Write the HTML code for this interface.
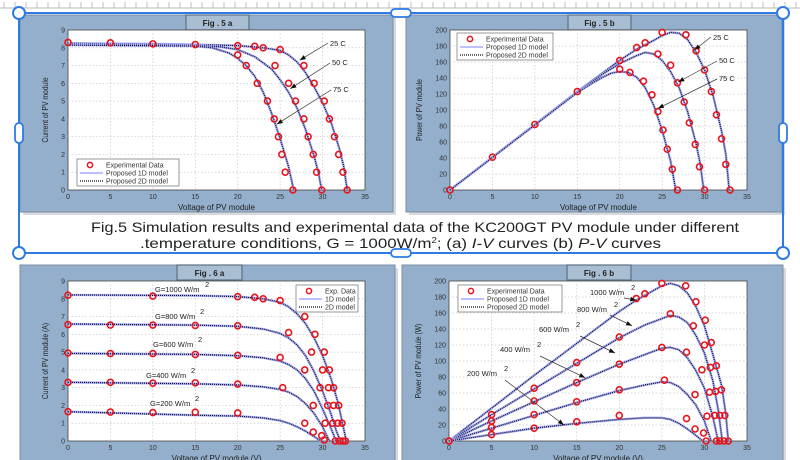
<!DOCTYPE html>
<html><head><meta charset="utf-8"><style>
html,body{margin:0;padding:0;background:#fff;}
svg{display:block;font-family:"Liberation Sans",sans-serif;}
</style></head><body>
<svg id="root" width="800" height="460" viewBox="0 0 800 460"></svg>
<script>
// ---------- DATA (Fig 5a: I-V vs temperature) ----------
const f5aExp25V=[0,5,10,15,20,22,23,25,27.8,29,30.2,30.8,31.4,31.9,32.4,32.9];
const f5aExp25I=[8.3,8.28,8.22,8.18,8.12,8.08,8.0,7.9,7.0,6.0,5.0,4.0,3.0,2.0,1.0,0];
const f5aExp50V=[24.4,26,26.8,27.8,28.3,28.9,29.3,29.9];
const f5aExp50I=[7.0,6.0,5.0,4.0,3.0,2.0,1.0,0];
const f5aExp75V=[20,21,22.3,23.5,24.3,24.8,25.2,25.6,26.5];
const f5aExp75I=[7.6,7.0,6.0,5.0,4.0,3.0,2.0,1.0,0];
const f5aM25V=[0,10,15,20,23,25,26,27,28,29,30,31,32,32.5,32.9];
const f5aM25I=[8.25,8.22,8.18,8.12,8.0,7.85,7.6,7.2,6.6,5.8,4.9,3.8,2.3,1.3,0];
const f5aM50V=[0,15,18,20,22,24,25,26,27,28,29,29.5,29.9];
const f5aM50I=[8.2,8.15,8.05,7.9,7.5,6.8,6.2,5.5,4.6,3.4,1.9,1.0,0];
const f5aM75V=[0,15,17,19,20,21,22,23,24,25,26,26.6];
const f5aM75I=[8.15,8.1,8.0,7.7,7.4,7.0,6.4,5.5,4.3,2.9,1.3,0];
// ---------- Fig 5b: P-V vs temperature ----------
const f5bExp25V=[25,27.8,29,30,30.8,31.4,32,32.5,33];
const f5bExp25P=[197,194,174,150,123,94,64,32,0];
const f5bExp50V=[20,22,23,24.5,26,26.8,27.6,28.2,28.9,29.4,30];
const f5bExp50P=[162,178,184,170,156,134,110,84,57,29,0];
const f5bExp75V=[0,5,10,15,20,21.2,22.8,23.8,24.5,25.1,25.6,26.2,26.8];
const f5bExp75P=[0,41,82,123,151,147,136,119,98,75,51,26,0];
const f5bM25V=[0,5,10,15,20,22,24,25,26,27,28,29,30,31,32,32.5,32.9];
const f5bM25P=[0,41,82,123,162,176,187,193,197,196,188,172,150,118,74,45,0];
const f5bM50V=[0,15,18,20,22,23,24,25,26,27,28,29,29.5,29.9];
const f5bM50P=[0,122,145,158,168,172,170,162,148,128,98,58,32,0];
const f5bM75V=[0,15,17,18,19,20,21,22,23,24,25,26,26.6];
const f5bM75P=[0,122,135,141,146,148,147,141,128,106,75,36,0];
// ---------- Fig 6a: I-V vs irradiance ----------
const f6aExp1000V=[0,10,20,22,23,25,27.9,29.1,30.2,30.8,31.3,31.9,32.3,32.7];
const f6aExp1000I=[8.2,8.15,8.12,8.08,8.0,7.9,7.0,6.0,5.0,4.0,3.0,2.0,1.0,0];
const f6aExp800V=[0,5,10,15,20,26,28.7,30,30.7,31.3,31.8,32.4];
const f6aExp800I=[6.55,6.52,6.52,6.5,6.48,6.1,5.0,4.0,3.0,2.0,1.0,0];
const f6aExp600V=[0,5,10,15,20,25,27.9,29.7,30.6,31.2,32];
const f6aExp600I=[4.95,4.92,4.92,4.87,4.82,4.7,4.0,3.0,2.0,1.0,0];
const f6aExp400V=[0,5,10,15,20,25.3,28.9,30.3,31.5];
const f6aExp400I=[3.3,3.3,3.25,3.27,3.2,3.0,2.0,1.0,0];
const f6aExp200V=[0,5,10,15,20,27.9,28.9,29.9,30.2];
const f6aExp200I=[1.65,1.63,1.6,1.62,1.58,1.0,0.5,0.3,0.05];
const f6aM1000V=[0,15,20,23,25,26,27,28,29,30,31,31.8,32.3,32.8];
const f6aM1000I=[8.22,8.18,8.12,8.0,7.8,7.55,7.15,6.6,5.8,4.8,3.5,2.2,1.1,0];
const f6aM800V=[0,15,20,23,25,26,27,28,29,30,31,31.6,32.1];
const f6aM800I=[6.58,6.52,6.45,6.3,6.05,5.8,5.4,4.8,3.9,2.8,1.5,0.6,0];
const f6aM600V=[0,15,20,23,25,26,27,28,29,30,31,31.6];
const f6aM600I=[4.93,4.87,4.8,4.68,4.5,4.3,4.0,3.5,2.8,1.8,0.7,0];
const f6aM400V=[0,15,20,23,25,26,27,28,29,30,30.8];
const f6aM400I=[3.3,3.22,3.15,3.05,2.9,2.75,2.5,2.1,1.55,0.8,0];
const f6aM200V=[0,15,20,23,25,26,27,28,29,29.8];
const f6aM200I=[1.65,1.45,1.4,1.3,1.15,1.0,0.8,0.55,0.25,0];
// ---------- Fig 6b: P-V vs irradiance ----------
const f6bExp1000V=[0,22,23,25,27.8,29,30.1,30.8,31.4,32,32.4,32.8];
const f6bExp1000P=[0,178,184,197,194,174,151,123,94,64,32,0];
const f6bExp800V=[5,10,15,20,26,28.7,30,30.7,31.3,31.8,32.3];
const f6bExp800P=[33,66,98,130,159,144,120,92,62,32,0];
const f6bExp600V=[5,10,15,20,25,27.9,29.7,30.6,31.2,31.8];
const f6bExp600P=[25,50,73,96,117,111,89,61,32,0];
const f6bExp400V=[5,10,15,20,25.3,28.9,30.3,31.4];
const f6bExp400P=[17,33,49,64,76,58,31,0];
const f6bExp200V=[0,5,10,15,20,27.9,28.9,29.9,30.2];
const f6bExp200P=[0,8,16,24,32,28,15,10,0];
const f6bM1000V=[0,5,10,15,20,22,24,25,26,27,28,29,30,31,32,32.5,32.8];
const f6bM1000P=[0,41,82,122,162,176,188,194,197,194,185,168,144,108,70,35,0];
const f6bM800V=[0,5,10,15,20,23,25,26,27,28,29,30,31,31.6,32.1];
const f6bM800P=[0,33,65,97,129,145,153,157,155,148,132,110,75,40,0];
const f6bM600V=[0,5,10,15,20,23,25,26,27,28,29,30,31,31.6];
const f6bM600P=[0,25,49,73,96,108,116,117,114,104,88,66,30,0];
const f6bM400V=[0,5,10,15,20,23,25,26,27,28,29,30,30.8];
const f6bM400P=[0,16,32,48,63,70,74,73,68,58,45,25,0];
const f6bM200V=[0,5,10,15,20,23,25,26,27,28,29,29.8];
const f6bM200P=[0,8,16,22,27,29,29,27,22,15,7,0];
const xTicks=[0,5,10,15,20,25,30,35];
const iTicks=[0,1,2,3,4,5,6,7,8,9];
const pTicks=[0,20,40,60,80,100,120,140,160,180,200];

const NS="http://www.w3.org/2000/svg";
const root=document.getElementById('root');
function mk(tag,attrs,parent,text){const e=document.createElementNS(NS,tag);for(const k in attrs)e.setAttribute(k,attrs[k]);if(text!==undefined)e.textContent=text;(parent||root).appendChild(e);return e;}

// page chrome
const ruler=mk('g',{});


mk('line',{x1:0,y1:8,x2:800,y2:8,stroke:'#bbb','stroke-width':1},ruler);
for(let x=4;x<800;x+=11){mk('line',{x1:x,y1:2,x2:x,y2:8,stroke:'#999','stroke-width':0.6},ruler);}

function panel(name,x,y,w,h,label,lx,lw){
  const g=mk('g',{});
  
  
  mk('rect',{x:x+3,y:y+3,width:w,height:h,fill:'#d6d9de'},g);
  mk('rect',{x,y,width:w,height:h,fill:'#93afcb',stroke:'#7c8da3','stroke-width':1},g);
  const lb=mk('g',{},g);
  
  
  mk('rect',{x:lx,y:y,width:lw,height:15,fill:'#a9bdd3',stroke:'#5f6f80','stroke-width':1.2},lb);
  mk('text',{x:lx+lw/2,y:y+11,'text-anchor':'middle','font-size':8,'font-weight':'bold',fill:'#222'},lb,label);
}
panel('fig5a-panel',20,15,373,197,'Fig . 5 a',186,63);
panel('fig5b-panel',406,15,376,197,'Fig . 5 b',568,63);
panel('fig6a-panel',20,265,375,200,'Fig . 6 a',177,65);
panel('fig6b-panel',402,265,381,200,'Fig . 6 b',567,64);

function chart(o){
  const g=mk('g',{});
  
  
  const sx=v=>o.x0+(v-0)/(35)*(o.x1-o.x0);
  const sy=v=>o.y0-(v/o.ymax)*(o.y0-o.y1);
  mk('rect',{x:o.x0,y:o.y1,width:o.x1-o.x0,height:o.y0-o.y1,fill:'#fff',stroke:'#444','stroke-width':0.8},g);
  xTicks.forEach(t=>{const X=sx(t);
    if(t>0&&t<35)mk('line',{x1:X,y1:o.y1,x2:X,y2:o.y0,stroke:'#c8c8c8','stroke-width':0.7,'stroke-dasharray':'1.5,2'},g);
    const tl=mk('text',{x:X,y:o.y0+9,'text-anchor':'middle','font-size':7,fill:'#333'},g,String(t));
    
    
  });
  o.yt.forEach(t=>{const Y=sy(t);
    if(t>0&&t<o.ymax)mk('line',{x1:o.x0,y1:Y,x2:o.x1,y2:Y,stroke:'#c8c8c8','stroke-width':0.7,'stroke-dasharray':'1.5,2'},g);
    const tl=mk('text',{x:o.x0-3,y:Y+2.5,'text-anchor':'end','font-size':7,fill:'#333'},g,String(t));
    
    
  });
  const xt=mk('text',{x:(o.x0+o.x1)/2,y:o.y0+20,'text-anchor':'middle','font-size':8,fill:'#222'},g,o.xlabel);
  
  
  const yx=o.x0-o.ylo,yy=(o.y0+o.y1)/2;
  const yt=mk('text',{x:yx,y:yy,'text-anchor':'middle','font-size':8,fill:'#222'},g,o.ylabel);
  yt.setAttribute('transform',`translate(${yx} ${yy}) rotate(-90) scale(0.85 1) translate(${-yx} ${-yy})`);
  
  
  o.models.forEach(m=>{
    const d=m.xs.map((v,i)=>(i?'L':'M')+sx(v).toFixed(1)+','+sy(m.ys[i]).toFixed(1)).join(' ');
    const p1=mk('path',{d,fill:'none',stroke:'#a6abff','stroke-width':2.4},g);
    
    
    const p2=mk('path',{d,fill:'none',stroke:'#111','stroke-width':1.2,'stroke-dasharray':'1,1'},g);
    
    
  });
  o.exps.forEach(m=>{m.xs.forEach((v,i)=>{
    const c=mk('circle',{cx:sx(v),cy:sy(m.ys[i]),r:3,fill:'none',stroke:'#e8141b','stroke-width':1.6},g);
    
    
  });});
  o.notes.forEach(n=>{
    const t=mk('text',{x:n.tx,y:n.ty,'font-size':7.5,fill:'#222'},g,n.t);
    
    
    if(n.sup){const s=mk('text',{x:n.tx+n.sup,y:n.ty-5,'font-size':7.5,fill:'#222'},g,'2');}
    if(n.ax!==undefined){
      const ex=sx(n.ax),ey=sy(n.ay);
      const l=mk('line',{x1:n.lx,y1:n.ly,x2:ex,y2:ey,stroke:'#333','stroke-width':0.7},g);
      
      
      const a=Math.atan2(ey-n.ly,ex-n.lx),L=6,w=2.3;
      const bx=ex-L*Math.cos(a),by=ey-L*Math.sin(a);
      mk('polygon',{points:`${ex},${ey} ${bx-w*Math.sin(a)},${by+w*Math.cos(a)} ${bx+w*Math.sin(a)},${by-w*Math.cos(a)}`,fill:'#111'},g);
    }
  });
  const L=o.leg;
  const lg=mk('g',{},g);
  
  
  mk('rect',{x:L.x,y:L.y,width:L.w,height:27,fill:'#fff',stroke:'#555','stroke-width':0.6},lg);
  mk('circle',{cx:L.x+13,cy:L.y+6,r:2.6,fill:'none',stroke:'#e8141b','stroke-width':1.5},lg);
  mk('line',{x1:L.x+3,y1:L.y+14,x2:L.x+26,y2:L.y+14,stroke:'#a6abff','stroke-width':1.5},lg);
  mk('line',{x1:L.x+3,y1:L.y+22,x2:L.x+26,y2:L.y+22,stroke:'#111','stroke-width':1.2,'stroke-dasharray':'1,1'},lg);
  L.t.forEach((s,i)=>{const t=mk('text',{x:L.x+29,y:L.y+8.5+i*8,'font-size':7,fill:'#333'},lg,s);});
}
const longLeg=['Experimental Data','Proposed 1D model','Proposed 2D model'];
chart({name:'fig5a-iv-chart',x0:68,x1:365,y0:190,y1:30,ymax:9,yt:iTicks,ylo:20,
  xlabel:'Voltage of PV module',ylabel:'Current of PV module',
  models:[{xs:f5aM25V,ys:f5aM25I},{xs:f5aM50V,ys:f5aM50I},{xs:f5aM75V,ys:f5aM75I}],
  exps:[{xs:f5aExp25V,ys:f5aExp25I},{xs:f5aExp50V,ys:f5aExp50I},{xs:f5aExp75V,ys:f5aExp75I}],
  notes:[{t:'25 C',tx:330,ty:46,lx:328,ly:43,ax:27.3,ay:7.3},{t:'50 C',tx:332,ty:65,lx:330,ly:63,ax:26.2,ay:5.7},{t:'75 C',tx:333,ty:92,lx:331,ly:90,ax:24.6,ay:3.7}],
  leg:{x:77,y:159,w:102,t:longLeg}});
chart({name:'fig5b-pv-chart',x0:450,x1:747,y0:190,y1:30,ymax:200,yt:pTicks,ylo:28,
  xlabel:'Voltage of PV module',ylabel:'Power of PV module',
  models:[{xs:f5bM25V,ys:f5bM25P},{xs:f5bM50V,ys:f5bM50P},{xs:f5bM75V,ys:f5bM75P}],
  exps:[{xs:f5bExp25V,ys:f5bExp25P},{xs:f5bExp50V,ys:f5bExp50P},{xs:f5bExp75V,ys:f5bExp75P}],
  notes:[{t:'25 C',tx:713,ty:40,lx:711,ly:37,ax:28.8,ay:175},{t:'50 C',tx:719,ty:63,lx:717,ly:61,ax:26.9,ay:135},{t:'75 C',tx:719,ty:81,lx:717,ly:79,ax:24.5,ay:102}],
  leg:{x:457,y:33,w:96,t:longLeg}});
chart({name:'fig6a-iv-chart',x0:68,x1:365,y0:441,y1:281,ymax:9,yt:iTicks,ylo:20,
  xlabel:'Voltage of PV module (V)',ylabel:'Current of PV module (A)',
  models:[{xs:f6aM1000V,ys:f6aM1000I},{xs:f6aM800V,ys:f6aM800I},{xs:f6aM600V,ys:f6aM600I},{xs:f6aM400V,ys:f6aM400I},{xs:f6aM200V,ys:f6aM200I}],
  exps:[{xs:f6aExp1000V,ys:f6aExp1000I},{xs:f6aExp800V,ys:f6aExp800I},{xs:f6aExp600V,ys:f6aExp600I},{xs:f6aExp400V,ys:f6aExp400I},{xs:f6aExp200V,ys:f6aExp200I}],
  notes:[{t:'G=1000 W/m',tx:155,ty:292,sup:50},{t:'G=800 W/m',tx:155,ty:319,sup:45},{t:'G=600 W/m',tx:153,ty:347,sup:45},{t:'G=400 W/m',tx:146,ty:378,sup:45},{t:'G=200 W/m',tx:150,ty:406,sup:45}],
  leg:{x:296,y:285,w:62,t:['Exp. Data','1D model','2D model']}});
chart({name:'fig6b-pv-chart',x0:449,x1:747,y0:441,y1:281,ymax:200,yt:pTicks,ylo:28,
  xlabel:'Voltage of PV module (V)',ylabel:'Power of PV module (W)',
  models:[{xs:f6bM1000V,ys:f6bM1000P},{xs:f6bM800V,ys:f6bM800P},{xs:f6bM600V,ys:f6bM600P},{xs:f6bM400V,ys:f6bM400P},{xs:f6bM200V,ys:f6bM200P}],
  exps:[{xs:f6bExp1000V,ys:f6bExp1000P},{xs:f6bExp800V,ys:f6bExp800P},{xs:f6bExp600V,ys:f6bExp600P},{xs:f6bExp400V,ys:f6bExp400P},{xs:f6bExp200V,ys:f6bExp200P}],
  notes:[{t:'1000 W/m',tx:590,ty:295,sup:41,lx:624,ly:298,ax:22,ay:176},{t:'800 W/m',tx:577,ty:312,sup:37,lx:610,ly:315,ax:21.5,ay:144},
         {t:'600 W/m',tx:539,ty:332,sup:37,lx:580,ly:336,ax:19.5,ay:110},{t:'400 W/m',tx:500,ty:352,sup:37,lx:540,ly:356,ax:16,ay:79},{t:'200 W/m',tx:467,ty:376,sup:37,lx:505,ly:380,ax:13.5,ay:20}],
  leg:{x:458,y:285,w:104,t:longLeg}});

// caption
const cap=mk('g',{});


mk('text',{x:91,y:232,'font-size':14,fill:'#222',textLength:648,lengthAdjust:'spacingAndGlyphs'},cap,'Fig.5  Simulation results and experimental data of the KC200GT PV module under different');
const c2=mk('text',{x:140,y:248,'font-size':14,fill:'#222',textLength:521,lengthAdjust:'spacingAndGlyphs'},cap);
c2.innerHTML='.temperature conditions, G = 1000W/m<tspan font-size="8" dy="-5">2</tspan><tspan dy="5">; (a) </tspan><tspan font-style="italic">I-V</tspan> curves (b) <tspan font-style="italic">P-V</tspan> curves';

// selection frame
const sel=mk('g',{});


mk('rect',{x:19,y:13,width:764,height:240,fill:'none',stroke:'#2f7ae5','stroke-width':2},sel);
[[19,13],[783,13],[19,253],[783,253]].forEach(([x,y])=>{
  const h=mk('circle',{cx:x,cy:y,r:6,fill:'#fff',stroke:'#2f7ae5','stroke-width':2},sel);
  
  
});
[[401,253],[401,13]].forEach(([x,y])=>{
  const h=mk('rect',{x:x-10,y:y-4,width:20,height:8,rx:4,fill:'#fff',stroke:'#2f7ae5','stroke-width':1.8},sel);
  
  
});
[[19,133],[783,133]].forEach(([x,y])=>{
  const h=mk('rect',{x:x-4,y:y-10,width:8,height:20,rx:4,fill:'#fff',stroke:'#2f7ae5','stroke-width':1.8},sel);
  
  
});
</script>
</body></html>
